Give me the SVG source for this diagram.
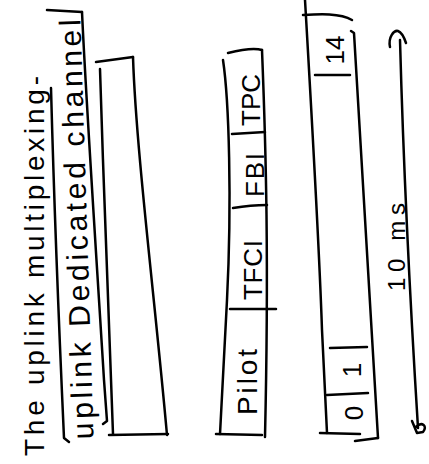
<svg xmlns="http://www.w3.org/2000/svg" width="429" height="464" viewBox="0 0 429 464">
<style>
.ln{fill:none;stroke:#000;stroke-width:2.5;stroke-linecap:round;stroke-linejoin:round}
.t{font-family:"Liberation Sans","DejaVu Sans",sans-serif;fill:#000;text-anchor:middle}
</style>
<rect width="429" height="464" fill="#fff"/>
<g id="title">
<text class="t" font-size="28" textLength="380" lengthAdjust="spacing" transform="translate(44,266) rotate(-90)">The uplink multiplexing-</text>
</g>
<g id="dedicated-channel">
<path class="ln" d="M47,10 L82,12"/>
<path class="ln" d="M82,12 C86,100 96,250 104,380 L107,421 L103,424"/>
<path class="ln" d="M51,88 C54,200 60,350 64,438 L69,442"/>
<text class="t" font-size="30" textLength="420" lengthAdjust="spacing" transform="translate(87,229) rotate(-91.8)">uplink Dedicated channel</text>
</g>
<g id="data-part">
<path class="ln" d="M96,62 L133,57"/>
<path class="ln" d="M100,69 C104,200 110,350 113,434"/>
<path class="ln" d="M133,57 C136,150 155,300 167,435"/>
<path class="ln" d="M109,435 L168,434"/>
</g>
<g id="slot">
<path class="ln" d="M228,53 C240,50 255,48 262,50"/>
<path class="ln" d="M223,60 C229,100 232,200 227,300 L220,434"/>
<path class="ln" d="M262,50 C266,150 269,260 265,437"/>
<path class="ln" d="M216,434 L262,435"/>
<path class="ln" d="M232,134 L265,132"/>
<path class="ln" d="M233,208 C245,206 255,205 267,205"/>
<path class="ln" d="M230,309 L276,309"/>
<text class="t" font-size="26" transform="translate(260,100) rotate(-90)">TPC</text>
<text class="t" font-size="26" textLength="44" lengthAdjust="spacing" transform="translate(264,175) rotate(-90)">FBI</text>
<text class="t" font-size="26" textLength="60" lengthAdjust="spacing" transform="translate(262,270) rotate(-90)">TFCI</text>
<text class="t" font-size="28" textLength="66" lengthAdjust="spacing" transform="translate(257,382) rotate(-90)">Pilot</text>
</g>
<g id="frame">
<path class="ln" d="M305,0 C312,120 319,240 322,330 L327,433"/>
<path class="ln" d="M303,15 C320,14 340,13 352,20"/>
<path class="ln" d="M351,31 L354,33 C360,130 368,260 378,438"/>
<path class="ln" d="M320,433 L360,434"/>
<path class="ln" d="M355,441 L378,438"/>
<path class="ln" d="M315,75 L350,75"/>
<path class="ln" d="M330,348 L367,347"/>
<path class="ln" d="M327,395 L368,393"/>
<text class="t" font-size="26" transform="translate(344,50) rotate(-90)">14</text>
<text class="t" font-size="26" transform="translate(361,370) rotate(-90)">1</text>
<text class="t" font-size="26" transform="translate(363,413) rotate(-90)">0</text>
</g>
<g id="connectors">
<path class="ln" d="M400,40 C403,150 410,300 418,428"/>
<path class="ln" d="M390,47 C388,37 394,30 398,31 C401,32 404,37 406,43"/>
<path class="ln" d="M412,421 L417,433 M416,427 C422,421 428,426 423,432 L417,433"/>
</g>
<g id="duration-label">
<text class="t" font-size="24" textLength="88" lengthAdjust="spacing" transform="translate(405,247) rotate(-90)">10 ms</text>
</g>
</svg>
